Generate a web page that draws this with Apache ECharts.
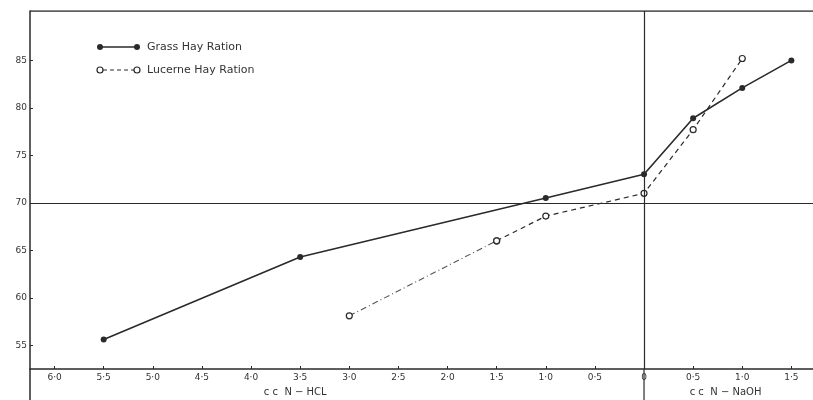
<!DOCTYPE html>
<html>
<head>
<meta charset="utf-8">
<script src="https://cdn.jsdelivr.net/npm/echarts@6/dist/echarts.min.js"></script>
<style>
  html, body { margin: 0; padding: 0; background: #fff; }
  #chart { width: 813px; height: 400px; }
</style>
</head>
<body>
<div id="chart"></div>
<script>
// acid side is plotted as negative cc, alkali side positive
const xTicks = [-6, -5.5, -5, -4.5, -4, -3.5, -3, -2.5, -2, -1.5, -1, -0.5, 0, 0.5, 1, 1.5];
const yTicks = [55, 60, 65, 70, 75, 80, 85];

const grassX = [-5.5, -3.5, -1.0, 0, 0.5, 1.0, 1.5];
const grassY = [55.6, 64.3, 70.5, 73.0, 78.9, 82.1, 85.0];

const lucerneX = [-3.0, -1.5, -1.0, 0, 0.5, 1.0];
const lucerneY = [58.1, 66.0, 68.6, 71.0, 77.7, 85.2];

const ink = '#2a2a2a';
const font = '"DejaVu Sans", sans-serif';

function pairs(xs, ys) {
  return xs.map((x, i) => [x, ys[i]]);
}

function fmtX(v) {
  if (v === 0) return '0';
  return Math.abs(v).toFixed(1).replace('.', '·');
}

let chart = echarts.init(document.getElementById('chart'));

let option = {
  backgroundColor: '#fff',
  animation: false,
  grid: { left: 30, right: 0, top: 11, bottom: 31 },
  xAxis: {
    type: 'value',
    min: -6.25,
    max: 1.72,
    axisLine: { show: true, lineStyle: { color: ink, width: 1.5 } },
    axisTick: { show: true, inside: true, length: 3, customValues: xTicks, lineStyle: { color: ink } },
    axisLabel: {
      customValues: xTicks,
      formatter: fmtX,
      color: '#333',
      fontSize: 9,
      fontFamily: font,
      margin: 4
    },
    splitLine: { show: false }
  },
  yAxis: {
    type: 'value',
    min: 52.5,
    max: 90.2,
    axisLine: { show: true, onZero: false, lineStyle: { color: ink, width: 1.5 } },
    axisTick: { show: true, inside: true, length: 3, customValues: yTicks, lineStyle: { color: ink } },
    axisLabel: {
      customValues: yTicks,
      color: '#333',
      fontSize: 9,
      fontFamily: font,
      margin: 3
    },
    splitLine: { show: false }
  },
  series: [
    {
      name: 'Grass Hay Ration',
      type: 'line',
      data: pairs(grassX, grassY),
      symbol: 'circle',
      symbolSize: 6,
      itemStyle: { color: ink },
      lineStyle: { color: ink, width: 1.6 },
      z: 3,
      markLine: {
        silent: true,
        symbol: 'none',
        label: { show: false },
        lineStyle: { color: ink, width: 1.2, type: 'solid' },
        data: [{ yAxis: 70 }, { xAxis: 0 }]
      }
    },
    {
      name: 'Lucerne Hay Ration',
      type: 'line',
      data: pairs(lucerneX, lucerneY).slice(0, 2),
      symbol: 'circle',
      symbolSize: 6,
      itemStyle: { color: '#fff', borderColor: ink, borderWidth: 1.2 },
      lineStyle: { color: '#555', width: 1.1, type: [6, 3, 1, 3] },
      z: 4
    },
    {
      name: 'Lucerne Hay Ration',
      type: 'line',
      data: pairs(lucerneX, lucerneY).slice(1),
      symbol: 'circle',
      symbolSize: 6,
      itemStyle: { color: '#fff', borderColor: ink, borderWidth: 1.2 },
      lineStyle: { color: ink, width: 1.2, type: [5, 4] },
      z: 4
    },
    {
      // top frame line
      type: 'line',
      data: [[-6.25, 90.2], [1.72, 90.2]],
      symbol: 'none',
      lineStyle: { color: ink, width: 1.5 },
      silent: true
    }
  ]
};

chart.setOption(option);

// decorations that need pixel positions: legend key, axis names, lines below the axis
const zeroPt = chart.convertToPixel({ gridIndex: 0 }, [0, 52.5]);
const leftPt = chart.convertToPixel({ gridIndex: 0 }, [-6.25, 52.5]);
const hclPt = chart.convertToPixel({ gridIndex: 0 }, [-3.55, 52.5]);
const naohPt = chart.convertToPixel({ gridIndex: 0 }, [0.83, 52.5]);

chart.setOption({
  graphic: [
    { type: 'line', shape: { x1: zeroPt[0], y1: zeroPt[1], x2: zeroPt[0], y2: 400 }, style: { stroke: ink, lineWidth: 1.2 } },
    { type: 'line', shape: { x1: leftPt[0], y1: leftPt[1], x2: leftPt[0], y2: 400 }, style: { stroke: ink, lineWidth: 1.5 } },
    { type: 'text', x: hclPt[0], y: 392, style: { text: 'c c  N − HCL', fill: '#333', font: '10px ' + font, textAlign: 'center', textVerticalAlign: 'middle' } },
    { type: 'text', x: naohPt[0], y: 392, style: { text: 'c c  N − NaOH', fill: '#333', font: '10px ' + font, textAlign: 'center', textVerticalAlign: 'middle' } },
    // legend
    { type: 'line', shape: { x1: 100, y1: 47, x2: 137, y2: 47 }, style: { stroke: ink, lineWidth: 1.6 } },
    { type: 'circle', shape: { cx: 100, cy: 47, r: 3 }, style: { fill: ink } },
    { type: 'circle', shape: { cx: 137, cy: 47, r: 3 }, style: { fill: ink } },
    { type: 'text', x: 147, y: 47, style: { text: 'Grass Hay Ration', fill: '#333', font: '11px ' + font, textVerticalAlign: 'middle' } },
    { type: 'line', shape: { x1: 103, y1: 70, x2: 134, y2: 70 }, style: { stroke: ink, lineWidth: 1.1, lineDash: [4, 3] } },
    { type: 'circle', shape: { cx: 100, cy: 70, r: 3 }, style: { fill: '#fff', stroke: ink, lineWidth: 1.2 } },
    { type: 'circle', shape: { cx: 137, cy: 70, r: 3 }, style: { fill: '#fff', stroke: ink, lineWidth: 1.2 } },
    { type: 'text', x: 147, y: 70, style: { text: 'Lucerne Hay Ration', fill: '#333', font: '11px ' + font, textVerticalAlign: 'middle' } }
  ]
});
</script>
</body>
</html>
